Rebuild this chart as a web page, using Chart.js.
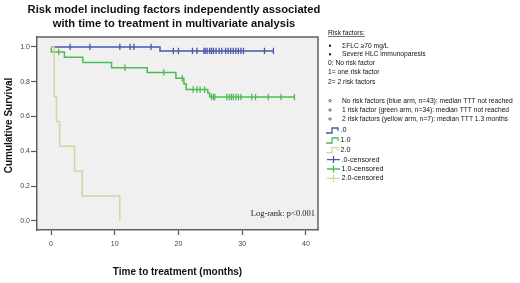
<!DOCTYPE html>
<html><head><meta charset="utf-8">
<script src="https://cdn.jsdelivr.net/npm/chart.js@4"></script>
<style>html,body{margin:0;padding:0;background:#fff;}</style>
</head><body>
<canvas id="c" width="520" height="283"></canvas>
<script>
// ---- data ----
const titleLines = ['Risk model including factors independently associated', 'with time to treatment in multivariate analysis'];
const xTitle = 'Time to treatment (months)';
const yTitle = 'Cumulative Survival';
const xTicks = [0, 10, 20, 30, 40];
const yTicks = [0, 0.2, 0.4, 0.6, 0.8, 1.0];
const seriesNames = ['.0', '1.0', '2.0'];
const censoredNames = ['.0-censored', '1.0-censored', '2.0-censored'];

// group 0 (blue)
const blueTimes = [0, 17.1, 35.0];
const blueSurv  = [1.0, 0.977, 0.977];
const blueCensored = [3.0, 6.1, 10.8, 12.4, 13.0, 15.7, 19.2, 20.0, 22.2, 22.9, 24.0, 24.2, 24.5, 24.9, 25.2, 25.5, 25.9, 26.4, 26.8, 27.4, 27.8, 28.2, 28.6, 29.0, 29.4, 29.8, 30.2, 33.5, 34.9];
// group 1 (green)
const greenTimes = [0, 0.05, 2.1, 5.0, 9.5, 15.1, 19.6, 20.85, 21.2, 24.6, 24.9, 38.2];
const greenSurv  = [1.0, 0.971, 0.94, 0.91, 0.88, 0.853, 0.82, 0.789, 0.755, 0.735, 0.712, 0.712];
const greenCensored = [1.2, 11.6, 17.7, 20.6, 22.3, 22.9, 23.4, 24.1, 25.2, 25.5, 25.7, 27.6, 28.0, 28.3, 28.6, 29.0, 29.4, 29.8, 31.5, 32.1, 34.1, 36.1, 38.2];
// group 2 (yellow)
const yellowTimes = [0, 0.5, 0.85, 1.35, 3.7, 4.9, 10.8];
const yellowSurv  = [1.0, 0.714, 0.571, 0.429, 0.286, 0.143, 0.0];
const yellowCensored = [];

const riskHeader = 'Risk factors:';
const riskBullets = ['\u03A3FLC \u226570 mg/L', 'Severe HLC immunoparesis'];
const riskCodes = ['0: No risk factor', '1= one risk factor', '2= 2 risk factors'];
const armNotes = ['No risk factors (blue arm, n=43): median TTT not reached', '1 risk factor (green arm, n=34): median TTT not reached', '2 risk factors (yellow arm, n=7): median TTT 1.3 months'];
const logRank = 'Log-rank: p<0.001';

// ---- styles ----
const colors = ['#4757ab', '#4cbd55', '#d9d2a2'];
const FONT = 'Arial, "Liberation Sans", sans-serif';

function survAt(times, surv, t) {
  let v = surv[0];
  for (let i = 0; i < times.length; i++) { if (times[i] <= t) v = surv[i]; }
  return v;
}
function curve(times, surv) { return times.map((t, i) => ({x: t, y: surv[i]})); }
function cens(times, surv, c) { return c.map(t => ({x: t, y: survAt(times, surv, t)})); }

const groups = [[blueTimes, blueSurv, blueCensored], [greenTimes, greenSurv, greenCensored], [yellowTimes, yellowSurv, yellowCensored]];
const datasets = [];
groups.forEach((g, i) => {
  datasets.push({type: 'line', label: seriesNames[i], data: curve(g[0], g[1]), stepped: 'before',
    borderColor: colors[i], borderWidth: 1.5, pointRadius: 0, fill: false, order: 3 - i});
});
groups.forEach((g, i) => {
  datasets.push({type: 'scatter', label: censoredNames[i], data: cens(g[0], g[1], g[2]), showLine: false,
    pointStyle: 'line', pointRotation: 90, pointRadius: 3.2, pointBorderColor: colors[i], pointBorderWidth: 1.3,
    borderColor: colors[i], backgroundColor: colors[i], order: 3 - i});
});

const decor = {
  id: 'decor',
  beforeDraw(chart) {
    const {ctx, chartArea: a} = chart;
    ctx.save();
    ctx.fillStyle = '#fff';
    ctx.fillRect(0, 0, chart.width, chart.height);
    ctx.fillStyle = '#f0f0f0';
    ctx.fillRect(a.left, a.top, a.right - a.left, a.bottom - a.top);
    ctx.restore();
  },
  afterDraw(chart) {
    const {ctx, chartArea: a} = chart;
    ctx.save();
    // frame top / right
    ctx.strokeStyle = '#606060';
    ctx.lineWidth = 1.5;
    ctx.beginPath();
    ctx.moveTo(a.left, a.top); ctx.lineTo(a.right, a.top); ctx.lineTo(a.right, a.bottom);
    ctx.stroke();
    // title
    ctx.fillStyle = '#111';
    ctx.textAlign = 'center'; ctx.textBaseline = 'middle';
    ctx.font = 'bold 11.2px ' + FONT;
    ctx.fillText(titleLines[0], 174, 10);
    ctx.fillText(titleLines[1], 174, 23.5);
    // y title
    ctx.save();
    ctx.translate(9, 125.5);
    ctx.rotate(-Math.PI / 2);
    ctx.font = 'bold 10px ' + FONT;
    ctx.fillText(yTitle, 0, 0);
    ctx.restore();
    // log-rank
    ctx.font = '8.5px "Liberation Serif", "Times New Roman", serif';
    ctx.textAlign = 'right';
    ctx.fillStyle = '#222';
    ctx.fillText(logRank, 315, 214);
    // right panel
    ctx.textAlign = 'left';
    ctx.fillStyle = '#111';
    ctx.font = '6.7px ' + FONT;
    ctx.fillText(riskHeader, 328, 33);
    const w = ctx.measureText(riskHeader).width;
    ctx.strokeStyle = '#111'; ctx.lineWidth = 0.6;
    ctx.beginPath(); ctx.moveTo(328, 36.5); ctx.lineTo(328 + w, 36.5); ctx.stroke();
    const by = [45.7, 54.3];
    riskBullets.forEach((t, i) => {
      ctx.fillRect(329, by[i] - 1, 2, 2);
      ctx.fillText(t, 342, by[i]);
    });
    const cy = [63.3, 72.3, 81.7];
    riskCodes.forEach((t, i) => ctx.fillText(t, 328, cy[i]));
    const ay = [100.7, 110, 119];
    armNotes.forEach((t, i) => {
      ctx.beginPath(); ctx.arc(330, ay[i], 1.2, 0, Math.PI * 2); ctx.lineWidth = 0.6; ctx.stroke();
      ctx.fillText(t, 342, ay[i]);
    });
    // legend
    const ly = [130.5, 140.5, 150.2, 159.6, 169, 178.4];
    ctx.font = '7.2px ' + FONT;
    for (let i = 0; i < 3; i++) {
      const y = ly[i];
      ctx.strokeStyle = colors[i]; ctx.lineWidth = 1.3;
      ctx.beginPath();
      ctx.moveTo(326, y + 2.5); ctx.lineTo(332, y + 2.5); ctx.lineTo(332, y - 2.5); ctx.lineTo(338, y - 2.5); ctx.lineTo(338, y + 0.5);
      ctx.stroke();
      ctx.fillStyle = '#111';
      ctx.fillText(seriesNames[i], 340.5, y);
    }
    for (let i = 0; i < 3; i++) {
      const y = ly[i + 3];
      ctx.strokeStyle = colors[i]; ctx.lineWidth = 1.3;
      ctx.beginPath();
      ctx.moveTo(327, y); ctx.lineTo(340, y);
      ctx.moveTo(333.5, y - 3.5); ctx.lineTo(333.5, y + 3.5);
      ctx.stroke();
      ctx.fillStyle = '#111';
      ctx.fillText(censoredNames[i], 341.5, y);
    }
    ctx.restore();
  }
};

new Chart(document.getElementById('c'), {
  type: 'line',
  data: {datasets},
  plugins: [decor],
  options: {
    responsive: false,
    animation: false,
    devicePixelRatio: 1,
    layout: {padding: {left: 0, right: 202, top: 37, bottom: 0}},
    plugins: {legend: {display: false}, tooltip: {enabled: false}, title: {display: false}},
    scales: {
      x: {
        type: 'linear', min: -2.2, max: 41.9,
        afterBuildTicks: s => { s.ticks = xTicks.map(v => ({value: v})); },
        afterFit: s => { s.height = 53; },
        grid: {drawOnChartArea: false, drawTicks: true, tickLength: 5, color: '#555', tickWidth: 1.2},
        border: {display: true, color: '#606060', width: 1.5},
        ticks: {font: {size: 7, family: FONT}, color: '#444', padding: 5, maxRotation: 0},
        title: {display: true, text: xTitle, font: {size: 10, weight: 'bold', family: FONT}, color: '#111', padding: {top: 0, bottom: 5}}
      },
      y: {
        type: 'linear', min: -0.052, max: 1.057,
        afterBuildTicks: s => { s.ticks = yTicks.map(v => ({value: v})); },
        afterFit: s => { s.width = 37; },
        grid: {drawOnChartArea: false, drawTicks: true, tickLength: 6, color: '#555', tickWidth: 1.2},
        border: {display: true, color: '#606060', width: 1.5},
        ticks: {font: {size: 7, family: FONT}, color: '#444', padding: 1, callback: v => Number(v).toFixed(1)},
        title: {display: false}
      }
    }
  }
});
</script>
</body></html>
